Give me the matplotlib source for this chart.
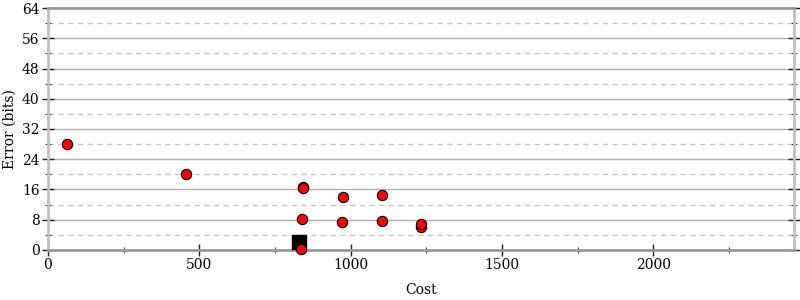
import numpy as np
from matplotlib import pyplot as plt
from matplotlib.ticker import MultipleLocator

# Points
cost = [63, 456, 843, 843, 840, 975, 972, 1104, 1104, 1233, 1233, 835]
error = [28.0, 20.1, 16.7, 16.3, 8.2, 14.0, 7.4, 14.5, 7.7, 6.1, 6.9, 0.3]

best_cost = [830]
best_error = [2.0]

plt.rcParams['font.family'] = 'DejaVu Serif'

fig = plt.figure(figsize=(8, 3), dpi=100)
ax = fig.add_axes([0.06, 0.1667, 0.9325, 0.8066])

ax.set_xlim(0, 2465)
ax.set_ylim(0, 64)

# grid: solid on majors, dashed on minors
ax.yaxis.set_major_locator(MultipleLocator(8))
ax.yaxis.set_minor_locator(MultipleLocator(4))
ax.xaxis.set_major_locator(MultipleLocator(500))
ax.xaxis.set_minor_locator(MultipleLocator(250))
for v in np.arange(8, 64, 8):
    ax.axhline(v, color='#b0b0b0', lw=1, zorder=0)
for v in np.arange(4, 64, 8):
    ax.axhline(v, color='#c8c8c8', lw=1, ls=(0, (4, 3)), zorder=0)

ax.scatter(best_cost, best_error, marker='s', s=90, color='black', zorder=3)
ax.scatter(cost, error, s=55, color='red', edgecolors='black', linewidths=0.8,
           zorder=4, clip_on=False)

for side in ['top', 'bottom']:
    ax.spines[side].set_color('#999999')
    ax.spines[side].set_linewidth(2)
for side in ['left', 'right']:
    ax.spines[side].set_color('#c0c0c0')
    ax.spines[side].set_linewidth(2)

ax.tick_params(which='major', direction='inout', length=8, width=1, color='#222222',
               labelsize=10, right=True, pad=2)
ax.tick_params(which='minor', direction='inout', length=5, width=0.8, color='#444444',
               right=True)

ax.set_xlabel('Cost', fontsize=10, labelpad=8)
ax.set_ylabel('Error (bits)', fontsize=10, labelpad=4)

fig.savefig('out.png', dpi=100)
